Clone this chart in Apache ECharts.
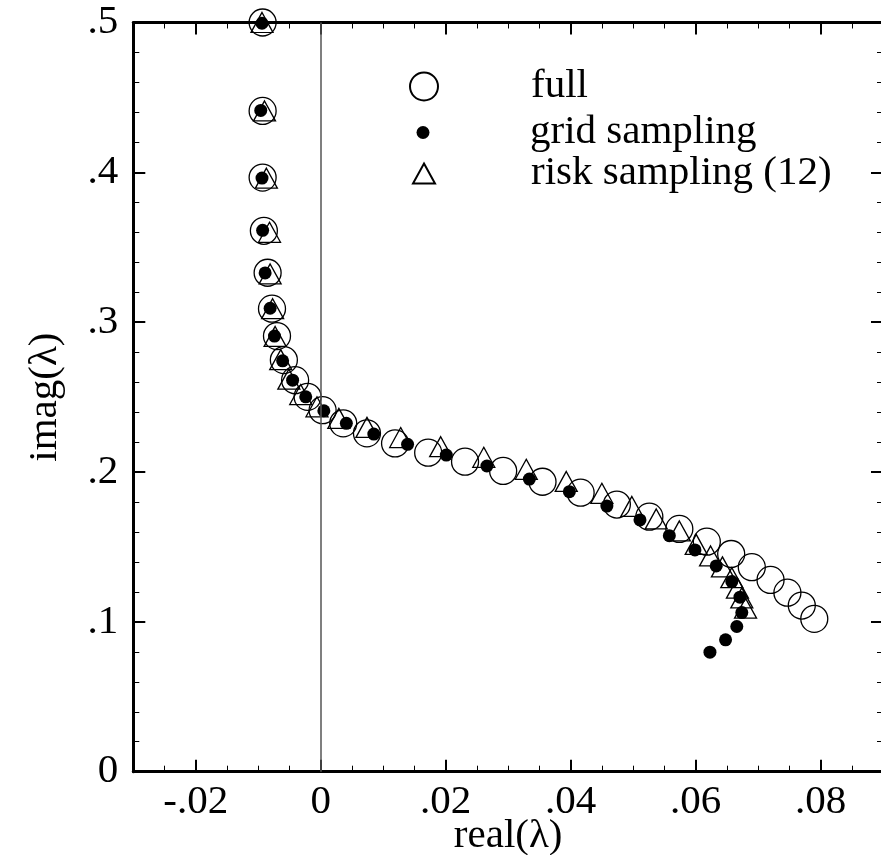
<!DOCTYPE html>
<html>
<head>
<meta charset="utf-8">
<script src="https://cdn.jsdelivr.net/npm/echarts@6/dist/echarts.min.js"></script>
<style>html,body{margin:0;padding:0;background:#fff}#c{width:881px;height:855px}</style>
</head>
<body>
<div id="c"></div>
<script>
var xMajorTicks = [-0.02, 0, 0.02, 0.04, 0.06, 0.08];

var fullReal = [-0.0093,-0.0093,-0.0093,-0.0091,-0.0085,-0.0078,-0.0070,-0.0059,-0.0041,-0.0021,0.0003,0.0036,0.0074,0.0119,0.0172,0.0231,0.0292,0.0355,0.0416,0.0474,0.0526,0.0574,0.0618,0.0657,0.0690,0.0720,0.0747,0.0770,0.0790];
var fullImag = [0.500,0.441,0.3965,0.361,0.333,0.309,0.2907,0.2747,0.2613,0.2502,0.2413,0.2325,0.2258,0.2191,0.2129,0.2069,0.2007,0.1935,0.1862,0.1783,0.1702,0.1620,0.1535,0.1453,0.1365,0.1280,0.1195,0.1109,0.1020];

var gridReal = [-0.0094,-0.0096,-0.0094,-0.0093,-0.0089,-0.0081,-0.0074,-0.0061,-0.0045,-0.0024,0.0005,0.0041,0.0085,0.0139,0.0201,0.0266,0.0334,0.0398,0.0458,0.0511,0.0558,0.0599,0.0633,0.0658,0.0671,0.0674,0.0666,0.0648,0.0623];
var gridImag = [0.4995,0.4413,0.3962,0.3613,0.3329,0.3093,0.2907,0.2742,0.2613,0.2502,0.2409,0.2325,0.2253,0.2185,0.2113,0.2040,0.1953,0.1869,0.1773,0.1680,0.1575,0.1480,0.1373,0.1269,0.1165,0.1062,0.0969,0.0880,0.0798];

var riskReal = [-0.0094,-0.0090,-0.0087,-0.0082,-0.0081,-0.0077,-0.0073,-0.0064,-0.0051,-0.0032,-0.0006,0.0029,0.0074,0.0128,0.0192,0.0261,0.0329,0.0393,0.0450,0.0498,0.0537,0.0574,0.0601,0.0624,0.0643,0.0658,0.0667,0.0674,0.0680];
var riskImag = [0.500,0.441,0.3961,0.360,0.3322,0.309,0.2905,0.275,0.262,0.2517,0.2435,0.2358,0.2298,0.2230,0.2169,0.2098,0.2018,0.1937,0.1858,0.1770,0.1687,0.1607,0.1517,0.1440,0.1367,0.1295,0.1225,0.1160,0.1091];

function pairs(xs, ys) { return xs.map(function (x, i) { return [x, ys[i]]; }); }
function fmt(v) {
  var n = Number(v.toFixed(3));
  if (n === 0) return '0';
  return String(n).replace('0.', '.');
}

var FONT = 'Liberation Serif';
var FS = 41;
var lineStyle = { color: '#000', width: 3 };
var xMin = -0.03, xMax = 0.09;

var chart = echarts.init(document.getElementById('c'));
chart.setOption({
  backgroundColor: '#fff',
  animation: false,
  grid: { left: 133.3, right: -2, top: 22.5, bottom: 83.3, containLabel: false, outerBoundsMode: 'none' },
  xAxis: [
    { type: 'value', position: 'bottom', min: xMin, max: xMax, interval: 0.005,
      axisLine: { show: true, onZero: false, lineStyle: lineStyle },
      axisTick: { show: true, inside: true, length: 6, lineStyle: { color: '#000', width: 1 } },
      axisLabel: { show: false }, splitLine: { show: false } },
    { type: 'value', position: 'bottom', min: xMin, max: xMax, interval: 0.005,
      axisLine: { show: false, onZero: false },
      axisTick: { show: true, inside: true, length: 12, customValues: xMajorTicks, lineStyle: { color: '#000', width: 2 } },
      axisLabel: { show: true, customValues: xMajorTicks, formatter: fmt, margin: 10,
        fontFamily: FONT, fontSize: FS, color: '#000' },
      name: 'real(λ)', nameLocation: 'middle', nameGap: 44, nameMoveOverlap: false,
      nameTextStyle: { fontFamily: FONT, fontSize: FS, color: '#000' },
      splitLine: { show: false } },
    { type: 'value', position: 'top', min: xMin, max: xMax, interval: 0.005,
      axisLine: { show: true, onZero: false, lineStyle: lineStyle },
      axisTick: { show: true, inside: true, length: 6, lineStyle: { color: '#000', width: 1 } },
      axisLabel: { show: false }, splitLine: { show: false } },
    { type: 'value', position: 'top', min: xMin, max: xMax, interval: 0.005,
      axisLine: { show: false, onZero: false },
      axisTick: { show: true, inside: true, length: 12, customValues: xMajorTicks, lineStyle: { color: '#000', width: 2 } },
      axisLabel: { show: false }, splitLine: { show: false } }
  ],
  yAxis: [
    { type: 'value', position: 'left', min: 0, max: 0.5, interval: 0.1,
      axisLine: { show: true, onZero: false, lineStyle: lineStyle },
      axisTick: { show: true, inside: true, length: 12, lineStyle: { color: '#000', width: 2 } },
      minorTick: { show: true, splitNumber: 5, length: 6, lineStyle: { color: '#000', width: 1 } },
      axisLabel: { show: true, formatter: fmt, margin: 15, fontFamily: FONT, fontSize: FS, color: '#000' },
      name: 'imag(λ)', nameLocation: 'middle', nameGap: 68, nameMoveOverlap: false,
      nameTextStyle: { fontFamily: FONT, fontSize: FS, color: '#000' },
      splitLine: { show: false } },
    { type: 'value', position: 'right', min: 0, max: 0.5, interval: 0.1,
      axisLine: { show: true, onZero: false, lineStyle: lineStyle },
      axisTick: { show: true, inside: true, length: 12, lineStyle: { color: '#000', width: 2 } },
      minorTick: { show: true, splitNumber: 5, length: 6, lineStyle: { color: '#000', width: 1 } },
      axisLabel: { show: false }, splitLine: { show: false } }
  ],
  legend: [
    { data: ['full'], left: 404, top: 61, orient: 'vertical', itemWidth: 28, itemHeight: 28,
      textStyle: { fontFamily: FONT, fontSize: FS, color: '#000', padding: [0, 0, 0, 88] } },
    { data: ['grid sampling'], left: 411.5, top: 107, orient: 'vertical', itemWidth: 13, itemHeight: 13,
      textStyle: { fontFamily: FONT, fontSize: FS, color: '#000', padding: [0, 0, 0, 95.5] } },
    { data: ['risk sampling (12)'], left: 407, top: 148, orient: 'vertical', itemWidth: 22, itemHeight: 20,
      textStyle: { fontFamily: FONT, fontSize: FS, color: '#000', padding: [0, 0, 0, 91] } }
  ],
  series: [
    { name: 'full', type: 'scatter', xAxisIndex: 0, yAxisIndex: 0, clip: false,
      symbol: 'circle', symbolSize: 27, z: 3,
      itemStyle: { color: 'rgba(0,0,0,0)', borderColor: '#000', borderWidth: 1.3, opacity: 1 },
      data: pairs(fullReal, fullImag),
      markLine: { silent: true, symbol: 'none', label: { show: false },
        lineStyle: { color: '#555', width: 1.5, type: 'solid', opacity: 1 },
        data: [{ xAxis: 0 }] } },
    { name: 'grid sampling', type: 'scatter', xAxisIndex: 0, yAxisIndex: 0, clip: false,
      symbol: 'circle', symbolSize: 13, z: 2,
      itemStyle: { color: '#000', opacity: 1 },
      data: pairs(gridReal, gridImag) },
    { name: 'risk sampling (12)', type: 'scatter', xAxisIndex: 0, yAxisIndex: 0, clip: false,
      symbol: 'triangle', symbolSize: [22, 20], z: 4,
      itemStyle: { color: 'rgba(0,0,0,0)', borderColor: '#000', borderWidth: 1.3, opacity: 1 },
      data: pairs(riskReal, riskImag) }
  ]
});
</script>
</body>
</html>
